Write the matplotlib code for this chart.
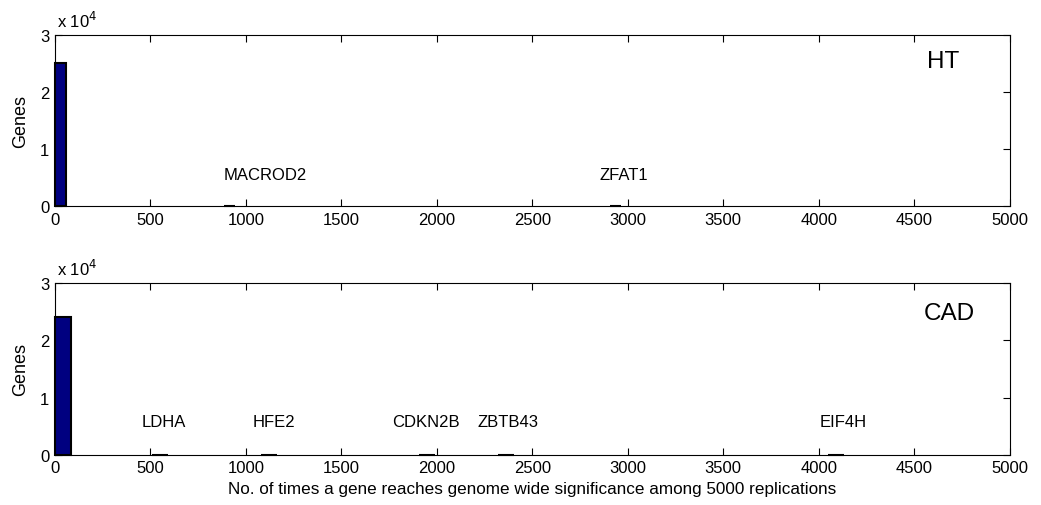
import matplotlib.pyplot as plt
from matplotlib.ticker import FuncFormatter

plt.rcParams['font.family'] = ['Liberation Sans', 'DejaVu Sans']

# HT panel: bin left edges, counts and labels
ht_bins = [0, 884, 2908]
ht_counts = [25000, 1, 1]
ht_width = 58
ht_genes = ['MACROD2', 'ZFAT1']
ht_label_x = [1100, 2978]

# CAD panel
cad_bins = [0, 506, 1079, 1905, 2318, 4050]
cad_counts = [24000, 1, 1, 1, 1, 1]
cad_width = 84
cad_genes = ['LDHA', 'HFE2', 'CDKN2B', 'ZBTB43', 'EIF4H']
cad_label_x = [568, 1147, 1945, 2375, 4126]

xticks = list(range(0, 5001, 500))
yticks = [0, 10000, 20000, 30000]

fig = plt.figure(figsize=(10.41, 5.06), dpi=100)
ax1 = fig.add_axes([0.0528, 0.591, 0.917, 0.338])
ax2 = fig.add_axes([0.0528, 0.099, 0.917, 0.340])

def style(ax, name, bins, counts, width, genes, label_x, label_y, name_pos):
    bars = ax.bar(bins, counts, width=width, align='edge', color='#000080',
                  edgecolor='black', linewidth=1.5)
    for b in bars:
        b.set_zorder(3)
        b.set_clip_on(False)
    ax.set_xlim(0, 5000)
    ax.set_ylim(0, 30000)
    ax.set_xticks(xticks)
    ax.set_yticks(yticks)
    ax.yaxis.set_major_formatter(FuncFormatter(lambda v, p: f'{v/1e4:g}'))
    ax.tick_params(direction='in', top=True, right=True, length=5,
                   width=0.8, labelsize=12, pad=4)
    for s in ax.spines.values():
        s.set_linewidth(0.8)
    ax.set_ylabel('Genes', fontsize=13, labelpad=8)
    ax.text(0.002, 1.03, r'x 10$^4$', transform=ax.transAxes, fontsize=12,
            ha='left', va='bottom')
    ax.text(name_pos[0], name_pos[1], name, transform=ax.transAxes,
            fontsize=17.5, ha='center', va='center')
    for g, x in zip(genes, label_x):
        ax.text(x, label_y, g, fontsize=12, ha='center', va='center')

style(ax1, 'HT', ht_bins, ht_counts, ht_width, ht_genes, ht_label_x, 5600, (0.93, 0.848))
style(ax2, 'CAD', cad_bins, cad_counts, cad_width, cad_genes, cad_label_x, 5800, (0.937, 0.826))
ax2.set_xlabel('No. of times a gene reaches genome wide significance among 5000 replications',
               fontsize=12.3, labelpad=4)

fig.savefig('out.png', dpi=100)
